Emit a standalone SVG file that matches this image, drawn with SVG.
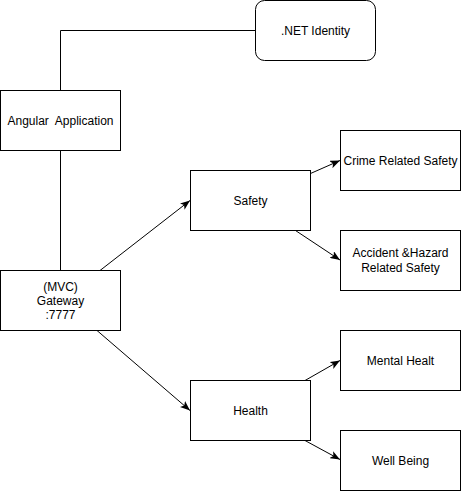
<svg xmlns="http://www.w3.org/2000/svg" width="461" height="492" viewBox="0 0 461 492">
<style>
.box{fill:#ffffff;stroke:#000000;stroke-width:1}
.t{font-family:"Liberation Sans",Arial,sans-serif;font-size:12px;fill:#000000;text-anchor:middle;white-space:pre}
.c{fill:none;stroke:#000000;stroke-width:1}
</style>
<defs>
<marker id="arr" markerUnits="userSpaceOnUse" markerWidth="10" markerHeight="8" viewBox="0 0 10 8" refX="10" refY="4" orient="auto">
<path d="M0,0 L10,4 L0,8 L2.5,4 Z" fill="#000000"/>
</marker>
</defs>
<rect width="461" height="492" fill="#ffffff"/>
<g id="connectors">
<path class="c" d="M60.5,90.5 L60.5,30.5 L255.5,30.5"/>
<path class="c" d="M60.5,150.5 L60.5,270.5"/>
<path class="c" d="M100,270.5 L190,200.5" marker-end="url(#arr)"/>
<path class="c" d="M97,330.5 L190,410.5" marker-end="url(#arr)"/>
<path class="c" d="M310.5,173.5 L340,160.5" marker-end="url(#arr)"/>
<path class="c" d="M295.5,230.5 L340,260" marker-end="url(#arr)"/>
<path class="c" d="M305,380.5 L340,360.5" marker-end="url(#arr)"/>
<path class="c" d="M305,440.5 L340,459.5" marker-end="url(#arr)"/>
</g>
<g id="identity">
<rect class="box" x="255.5" y="0.5" width="120" height="60" rx="9" ry="9"/>
<text class="t" x="315.5" y="34.5">.NET Identity</text>
</g>
<g id="angular">
<rect class="box" x="0.5" y="90.5" width="120" height="60"/>
<text class="t" x="60.5" y="124.5">Angular  Application</text>
</g>
<g id="gateway">
<rect class="box" x="0.5" y="270.5" width="120" height="60"/>
<text class="t" x="60.5" y="290.5">(MVC)</text>
<text class="t" x="60.5" y="304.5">Gateway</text>
<text class="t" x="60.5" y="318.5">:7777</text>
</g>
<g id="safety">
<rect class="box" x="190.5" y="170.5" width="120" height="60"/>
<text class="t" x="250.5" y="204.5">Safety</text>
</g>
<g id="crime">
<rect class="box" x="340.5" y="130.5" width="120" height="60"/>
<text class="t" x="400.5" y="164.5">Crime Related Safety</text>
</g>
<g id="accident">
<rect class="box" x="340.5" y="230.5" width="120" height="60"/>
<text class="t" x="400.5" y="257">Accident &amp;Hazard</text>
<text class="t" x="400.5" y="271.5">Related Safety</text>
</g>
<g id="health">
<rect class="box" x="190.5" y="380.5" width="120" height="60"/>
<text class="t" x="250.5" y="414.5">Health</text>
</g>
<g id="mental">
<rect class="box" x="340.5" y="330.5" width="120" height="60"/>
<text class="t" x="400.5" y="364.5">Mental Healt</text>
</g>
<g id="wellbeing">
<rect class="box" x="340.5" y="430.5" width="120" height="60"/>
<text class="t" x="400.5" y="464.5">Well Being</text>
</g>
</svg>
